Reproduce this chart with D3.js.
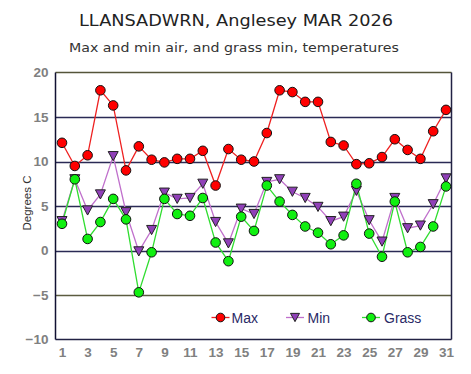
<!DOCTYPE html>
<html><head><meta charset="utf-8">
<script src="https://cdn.jsdelivr.net/npm/d3@7"></script>
<style>body{margin:0;background:#fff}svg{display:block}</style>
</head><body>
<script>
const days = d3.range(1, 32);
const maxTemp = [12.1,9.5,10.7,18.0,16.3,9.0,11.7,10.2,9.9,10.3,10.3,11.2,7.3,11.4,10.2,10.0,13.2,18.0,17.8,16.7,16.7,12.2,11.8,9.7,9.8,10.5,12.5,11.3,10.3,13.4,15.8];
const minTemp = [3.3,8.0,4.5,6.3,10.6,4.3,-0.1,2.3,6.5,5.8,5.9,7.5,3.2,0.8,4.7,4.1,7.7,8.0,6.6,5.9,4.9,3.3,3.8,6.7,3.4,1.0,5.9,2.5,2.8,5.2,8.1];
const grassTemp = [3.0,8.0,1.3,3.2,5.8,3.5,-4.7,-0.2,5.8,4.1,3.9,5.9,0.9,-1.2,3.8,2.2,7.3,5.5,4.0,2.7,2.0,0.7,1.7,7.5,1.9,-0.7,5.5,-0.2,0.4,2.7,7.2];
const yTicks = [-10,-5,0,5,10,15,20];
const xTicks = d3.range(1, 32, 2);
const seriesNames = ["Max","Min","Grass"];

const W = 471, H = 374;
const svg = d3.select("body").append("svg").attr("width", W).attr("height", H);

const x = d3.scaleLinear().domain([1, 31]).range([62, 446]);
const y = d3.scaleLinear().domain([-10, 20]).range([339.5, 72.5]);
const left = 55.5, right = 451.5;

// title
svg.append("text").attr("x", 236).attr("y", 26).attr("text-anchor", "middle")
  .attr("font-family", "DejaVu Sans, Verdana, sans-serif").attr("font-size", 16)
  .attr("fill", "#222").attr("textLength", 314).attr("lengthAdjust","spacingAndGlyphs")
  .text("LLANSADWRN, Anglesey MAR 2026");
svg.append("text").attr("x", 234).attr("y", 51.5).attr("text-anchor", "middle")
  .attr("font-family", "DejaVu Sans, Verdana, sans-serif").attr("font-size", 12.5)
  .attr("fill", "#333").attr("textLength", 330).attr("lengthAdjust","spacingAndGlyphs")
  .text("Max and min air, and grass min, temperatures");

// gridlines
svg.append("g").selectAll("line").data(yTicks.filter(v => v > -10 && v < 20)).join("line")
  .attr("x1", left).attr("x2", right)
  .attr("y1", d => Math.round(y(d)) + 0.5).attr("y2", d => Math.round(y(d)) + 0.5)
  .attr("stroke", d => d === -5 ? "#5c5c40" : "#2a2a55").attr("stroke-width", 1.3);

// frame
svg.append("line").attr("x1", left).attr("x2", right).attr("y1", y(20)).attr("y2", y(20))
  .attr("stroke", "#55553a").attr("stroke-width", 1.3);
svg.append("line").attr("x1", left).attr("x2", right).attr("y1", y(-10)).attr("y2", y(-10))
  .attr("stroke", "#222244").attr("stroke-width", 1.5);
svg.append("line").attr("x1", left).attr("x2", left).attr("y1", y(20)).attr("y2", y(-10))
  .attr("stroke", "#111133").attr("stroke-width", 1.5);
svg.append("line").attr("x1", right).attr("x2", right).attr("y1", y(20)).attr("y2", y(-10))
  .attr("stroke", "#222244").attr("stroke-width", 1.5);

// y axis ticks labels
const yAxis = d3.axisLeft(y).tickValues(yTicks).tickSize(0).tickPadding(7);
const gy = svg.append("g").attr("transform", `translate(${left},0)`).call(yAxis);
gy.select(".domain").remove();
gy.selectAll("text").attr("font-family", "Liberation Sans, Arial, sans-serif")
  .attr("font-size", 13.5).attr("font-weight", "bold").attr("fill", "#808080");

// x axis labels
const xAxis = d3.axisBottom(x).tickValues(xTicks).tickSize(0).tickPadding(8).tickFormat(d3.format("d"));
const gx = svg.append("g").attr("transform", `translate(0,${y(-10)})`).call(xAxis);
gx.select(".domain").remove();
gx.selectAll("text").attr("font-family", "Liberation Sans, Arial, sans-serif")
  .attr("font-size", 13.5).attr("font-weight", "bold").attr("fill", "#808080");

// y label
svg.append("text").attr("transform", "translate(31,203) rotate(-90)").attr("text-anchor", "middle")
  .attr("font-family", "Liberation Sans, Arial, sans-serif").attr("font-size", 11.5)
  .attr("fill", "#333").text("Degrees C");

const series = [
  {name: "Min", values: minTemp, line: "#c070cc", fill: "#9040b8", shape: "tri"},
  {name: "Grass", values: grassTemp, line: "#30dd30", fill: "#10f010", shape: "circle"},
  {name: "Max", values: maxTemp, line: "#ee2020", fill: "#ff0000", shape: "circle"}
];
const lineGen = d3.line().x((d, i) => x(days[i])).y(d => y(d));
series.forEach(s => {
  svg.append("path").datum(s.values).attr("d", lineGen)
    .attr("fill", "none").attr("stroke", s.line).attr("stroke-width", 1.3);
});
function drawMarker(g, s, cx, cy, scale) {
  if (s.shape === "circle") {
    g.append("circle").attr("cx", cx).attr("cy", cy).attr("r", 4.8 * scale)
      .attr("fill", s.fill).attr("stroke", "#111").attr("stroke-width", 1);
  } else {
    const w = 5 * scale, h = 4.6 * scale;
    g.append("path").attr("d", `M${cx - w},${cy - h}L${cx + w},${cy - h}L${cx},${cy + h}Z`)
      .attr("fill", s.fill).attr("stroke", "#222").attr("stroke-width", 1);
  }
}
series.forEach(s => {
  const g = svg.append("g");
  s.values.forEach((v, i) => drawMarker(g, s, x(days[i]), y(v), 1));
});

// legend
const legendPos = {Max: [220.5, 231.5], Min: [295, 307.5], Grass: [371, 384]};
const legY = 317.5;
seriesNames.forEach(n => {
  const s = series.find(t => t.name === n);
  const [mx, tx] = legendPos[n];
  svg.append("line").attr("x1", mx - 9).attr("x2", mx + 9).attr("y1", legY).attr("y2", legY)
    .attr("stroke", s.line).attr("stroke-width", 1.3);
  drawMarker(svg.append("g"), s, mx, legY, 0.9);
  svg.append("text").attr("x", tx).attr("y", legY + 5).attr("font-family", "Liberation Sans, Arial, sans-serif")
    .attr("font-size", 14).attr("fill", "#2a2a66").text(n);
});
</script>
</body></html>
